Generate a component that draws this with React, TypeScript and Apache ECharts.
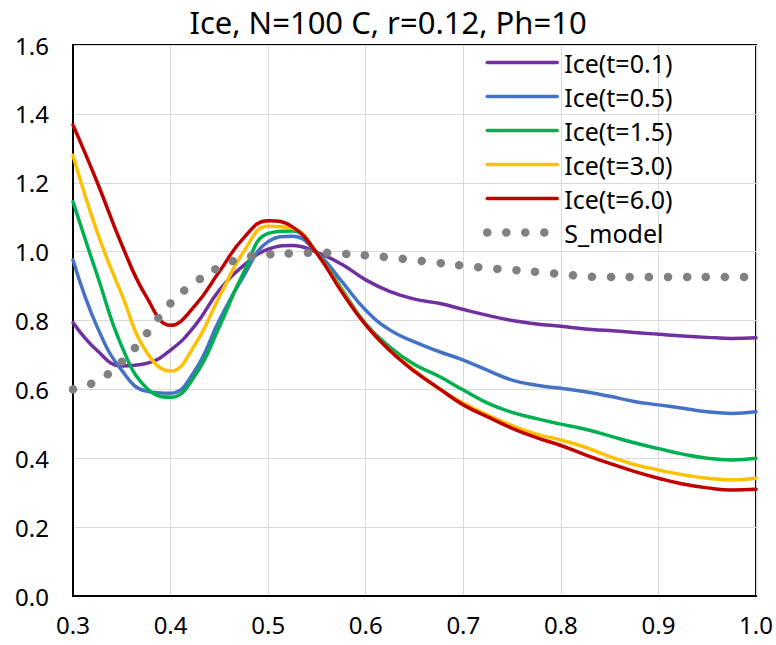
import React, { useEffect, useRef } from "react";
import * as echarts from "echarts";

const TITLE = "Ice, N=100 C, r=0.12, Ph=10";

const xs = [
  0.3, 0.325, 0.35, 0.375, 0.4, 0.425, 0.45, 0.475, 0.5, 0.525, 0.55, 0.575, 0.6, 0.625, 0.65,
  0.675, 0.7, 0.725, 0.75, 0.775, 0.8, 0.825, 0.85, 0.875, 0.9, 0.925, 0.95, 0.975, 1.0,
];

const ice01 = [
  0.794, 0.712, 0.668, 0.675, 0.714, 0.785, 0.888, 0.96, 1.007, 1.018, 0.998, 0.964, 0.918, 0.884,
  0.862, 0.85, 0.832, 0.815, 0.8, 0.79, 0.783, 0.775, 0.771, 0.765, 0.76, 0.755, 0.751, 0.748, 0.75,
];
const ice05 = [
  0.976, 0.78, 0.655, 0.595, 0.589, 0.655, 0.801, 0.93, 1.029, 1.045, 0.998, 0.915, 0.83, 0.772,
  0.738, 0.71, 0.685, 0.655, 0.627, 0.612, 0.603, 0.593, 0.58, 0.565, 0.555, 0.545, 0.535, 0.53, 0.535,
];
const ice15 = [
  1.145, 0.93, 0.725, 0.605, 0.577, 0.64, 0.782, 0.94, 1.053, 1.06, 0.997, 0.893, 0.79, 0.722,
  0.672, 0.638, 0.598, 0.56, 0.533, 0.515, 0.499, 0.484, 0.465, 0.445, 0.428, 0.412, 0.4, 0.395, 0.4,
];
const ice30 = [
  1.28, 1.055, 0.875, 0.71, 0.653, 0.73, 0.869, 1.0, 1.074, 1.068, 0.995, 0.888, 0.787, 0.712,
  0.655, 0.602, 0.56, 0.525, 0.495, 0.47, 0.453, 0.432, 0.405, 0.382, 0.366, 0.352, 0.342, 0.337, 0.342,
];
const ice60 = [
  1.368, 1.2, 1.02, 0.87, 0.786, 0.843, 0.942, 1.04, 1.09, 1.072, 0.995, 0.885, 0.787, 0.712,
  0.652, 0.603, 0.555, 0.52, 0.487, 0.46, 0.437, 0.41, 0.385, 0.362, 0.342, 0.325, 0.314, 0.308, 0.31,
];
const sModel = [
  0.6, 0.625, 0.68, 0.76, 0.85, 0.91, 0.955, 0.982, 0.992, 0.995, 0.997, 0.994, 0.989, 0.983,
  0.975, 0.967, 0.959, 0.952, 0.947, 0.941, 0.935, 0.928, 0.926, 0.926, 0.926, 0.926, 0.926, 0.926, 0.926,
];

const seriesNames = ["Ice(t=0.1)", "Ice(t=0.5)", "Ice(t=1.5)", "Ice(t=3.0)", "Ice(t=6.0)", "S_model"];
const seriesValues = [ice01, ice05, ice15, ice30, ice60, sModel];
const seriesColors = ["#7030A0", "#4472C4", "#00B050", "#FFC000", "#C00000", "#808080"];

const FONT = "Noto Sans";

export default function App() {
  const ref = useRef<HTMLDivElement>(null);
  useEffect(() => {
    document.body.style.margin = "0";
    if (!ref.current) return;
    const chart = echarts.init(ref.current, null, { renderer: "svg" });
    const series = seriesNames.map((name, i) => {
      const data = xs.map((x, j) => [x, seriesValues[i][j]]);
      const isModel = name === "S_model";
      return {
        name,
        type: "line",
        data,
        smooth: 0.45,
        symbol: "none",
        lineStyle: isModel
          ? { color: seriesColors[i], width: 8.5, type: [0.1, 18.9], cap: "round" }
          : { color: seriesColors[i], width: 3.5, cap: "round" },
        itemStyle: { color: seriesColors[i] },
        z: 2 + i,
      };
    });
    chart.setOption({
      animation: false,
      backgroundColor: "#fff",
      title: {
        text: TITLE,
        left: "center",
        top: 1,
        textStyle: { fontSize: 31, fontWeight: "normal", fontFamily: FONT, color: "#000" },
      },
      legend: {
        orient: "vertical",
        left: 483,
        top: 50,
        padding: 0,
        itemWidth: 70,
        itemHeight: 14,
        itemGap: 9,
        data: seriesNames,
        itemStyle: { opacity: 0 },
        lineStyle: { width: "inherit", type: "inherit", cap: "inherit" },
        textStyle: { fontSize: 25, fontFamily: FONT, color: "#000", padding: [0, 0, 0, 2] },
      },
      grid: {
        left: 73,
        right: 19,
        top: 45,
        bottom: 49,
        show: true,
        borderColor: "#000",
        borderWidth: 2,
      },
      xAxis: {
        type: "value",
        min: 0.3,
        max: 1.0,
        interval: 0.1,
        axisLine: { show: true, lineStyle: { color: "#000", width: 2 } },
        axisTick: { show: false },
        splitLine: { show: true, lineStyle: { color: "#d9d9d9", width: 1 } },
        axisLabel: {
          fontSize: 24,
          fontFamily: FONT,
          color: "#000",
          margin: 16,
          formatter: (v: number) => v.toFixed(1),
        },
      },
      yAxis: {
        type: "value",
        min: 0,
        max: 1.6,
        interval: 0.2,
        axisLine: { show: true, lineStyle: { color: "#000", width: 2 } },
        axisTick: { show: false },
        splitLine: { show: true, lineStyle: { color: "#d9d9d9", width: 1 } },
        axisLabel: {
          fontSize: 24,
          fontFamily: FONT,
          color: "#000",
          margin: 24,
          formatter: (v: number) => v.toFixed(1),
        },
      },
      series,
    });
    return () => chart.dispose();
  }, []);
  return <div ref={ref} style={{ width: 776, height: 645 }} />;
}
